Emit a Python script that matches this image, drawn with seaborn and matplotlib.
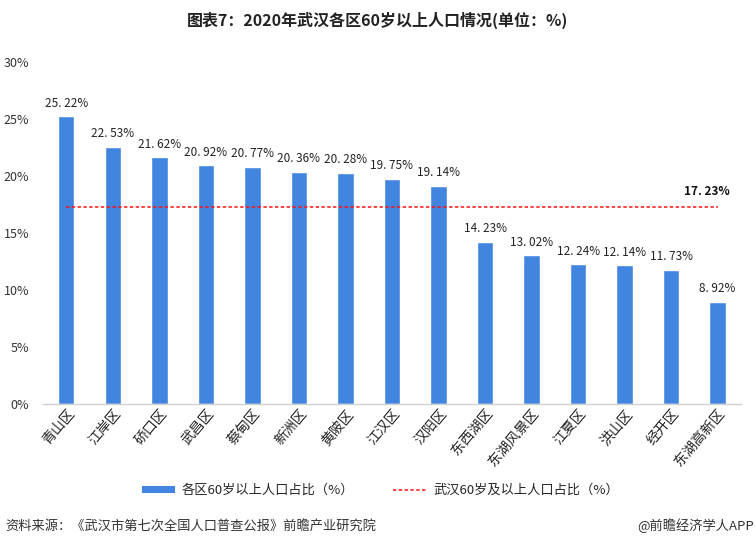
import matplotlib
matplotlib.use("Agg")
import matplotlib.pyplot as plt
import seaborn as sns
import pandas as pd
from matplotlib.patches import Patch
from matplotlib.lines import Line2D

districts = ["青山区", "江岸区", "硚口区", "武昌区", "蔡甸区", "新洲区", "黄陂区", "江汉区",
             "汉阳区", "东西湖区", "东湖风景区", "江夏区", "洪山区", "经开区", "东湖高新区"]
values = [25.22, 22.53, 21.62, 20.92, 20.77, 20.36, 20.28, 19.75,
          19.14, 14.23, 13.02, 12.24, 12.14, 11.73, 8.92]
city_avg = 17.23
y_ticks = [0, 5, 10, 15, 20, 25, 30]

sns.set_theme(style="white")
plt.rcParams['font.family'] = ['Noto Sans CJK SC', 'DejaVu Sans']

df = pd.DataFrame({"district": districts, "value": values})

fig = plt.figure(figsize=(7.56, 5.48), dpi=100)
ax = fig.add_axes([0.057, 0.263, 0.923, 0.624])

bar_color = "#4285E0"
red = "#FF1010"
dash = (0, (2.2, 1.6))
sns.barplot(data=df, x="district", y="value", color=bar_color, width=0.35,
            saturation=1, ax=ax)

for i, v in enumerate(values):
    ax.text(i, v + 0.6, f"{v:.2f}%".replace(".", ". "), ha="center", va="bottom",
            fontsize=8.5, color="#222222")

ax.plot([0, len(values) - 1], [city_avg, city_avg], color=red, lw=1.1, ls=dash)
ax.text(len(values) - 1 + 0.25, city_avg + 0.8, f"{city_avg:.2f}%".replace(".", ". "),
        ha="right", va="bottom", fontsize=8.5, fontweight="bold", color="#111111")

ax.set_xlim(-0.5, len(values) - 0.5)
ax.set_ylim(0, 30)
ax.set_yticks(y_ticks)
ax.set_yticklabels([f"{t}%" for t in y_ticks], fontsize=9, color="#333333")
ax.set_xlabel("")
ax.set_ylabel("")
ax.tick_params(axis="x", length=0, pad=2)
ax.tick_params(axis="y", length=0, pad=10)
for lbl in ax.get_xticklabels():
    lbl.set_rotation(50)
    lbl.set_ha("right")
    lbl.set_rotation_mode("anchor")
    lbl.set_fontsize(10)
    lbl.set_color("#222222")

for s in ["top", "right", "left"]:
    ax.spines[s].set_visible(False)
ax.spines["bottom"].set_color("#D0D0D0")
ax.spines["bottom"].set_linewidth(1)

handles = [Patch(facecolor=bar_color, edgecolor="none"),
           Line2D([0], [0], color=red, lw=1.1, ls=dash)]
labels = ["各区60岁以上人口占比（%）", "武汉60岁及以上人口占比（%）"]
fig.legend(handles, labels, loc="center", bbox_to_anchor=(0.503, 0.105), ncol=2,
           frameon=False, fontsize=9.5, handlelength=2.5, handleheight=0.5,
           handletextpad=0.5, columnspacing=3.0)

fig.text(0.5, 0.962, "图表7：2020年武汉各区60岁以上人口情况(单位：%)", ha="center", va="center",
         fontsize=11.5, fontweight="bold", color="#222222")
fig.text(0.007, 0.04, "资料来源：《武汉市第七次全国人口普查公报》前瞻产业研究院", ha="left",
         va="center", fontsize=9.5, color="#333333")
fig.text(0.997, 0.04, "@前瞻经济学人APP", ha="right", va="center", fontsize=9.5,
         color="#333333")

fig.savefig("out.png", dpi=100)
